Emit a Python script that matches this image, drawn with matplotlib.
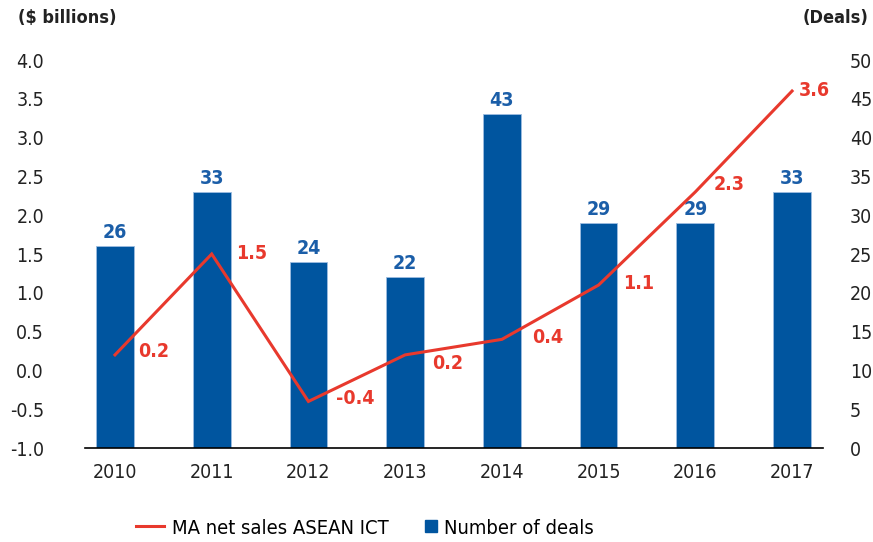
import matplotlib
matplotlib.use("Agg")
import matplotlib.pyplot as plt
from matplotlib.lines import Line2D
import numpy as np

plt.rcParams['font.family'] = ['DejaVu Sans']
plt.rcParams['font.stretch'] = 'condensed'

years = ['2010', '2011', '2012', '2013', '2014', '2015', '2016', '2017']
net_sales = [0.2, 1.5, -0.4, 0.2, 0.4, 1.1, 2.3, 3.6]   # $ billions
deals = [26, 33, 24, 22, 43, 29, 29, 33]

BLUE = '#00559f'
BLUE_TXT = '#1b5ea8'
RED = '#e8392d'
INK = '#222222'

# where each red value label sits relative to its point (pixels)
label_shift = [(23, 3), (24, 1), (28, 3), (27, -9), (30, 2), (24, 2), (18, 7), (7, 1)]

fig = plt.figure(figsize=(8.73, 5.42), dpi=100)
ax = fig.add_axes([85 / 873, 1 - 448 / 542, 738 / 873, 388 / 542])
ax2 = ax.twinx()

x = np.arange(len(years))

# deals as bars on the right axis
ax2.bar(x, deals, width=0.39, color=BLUE, edgecolor='#9dbde0', linewidth=0.6, zorder=1)
for xi, d in zip(x, deals):
    ax2.annotate(str(d), (xi, d), xytext=(0, 3), textcoords='offset points',
                 ha='center', va='bottom', color=BLUE_TXT, fontsize=14, fontweight='bold')
ax2.set_ylim(0, 50)
ax2.set_yticks(range(0, 51, 5))

# net sales line on the left axis, drawn above the bars
ax.set_zorder(ax2.get_zorder() + 1)
ax.patch.set_visible(False)
ax.plot(x, net_sales, color=RED, lw=2.2, solid_joinstyle='miter')
for xi, v, (dx, dy) in zip(x, net_sales, label_shift):
    ax.annotate(f'{v:.1f}', (xi, v), xytext=(dx * 0.72, dy * 0.72), textcoords='offset points',
                ha='left', va='center', color=RED, fontsize=14, fontweight='bold')
ax.set_ylim(-1, 4)
ax.set_yticks(np.arange(-1, 4.01, 0.5))
ax.set_yticklabels([f'{t:.1f}' for t in np.arange(-1, 4.01, 0.5)])

ax.set_xlim(-0.31, 7.32)
ax.set_xticks(x)
ax.set_xticklabels(years)

for a in (ax, ax2):
    for s in ('top', 'left', 'right'):
        a.spines[s].set_visible(False)
    a.spines['bottom'].set_visible(a is ax)
    a.tick_params(length=0, labelsize=14, colors=INK)
ax.spines['bottom'].set_linewidth(1.2)
ax.tick_params(axis='y', pad=29.5)
ax.tick_params(axis='x', pad=11)
ax2.tick_params(axis='y', pad=19.5)

fig.text(18 / 873, 1 - 18 / 542, '($ billions)', fontsize=13, fontweight='bold',
         ha='left', va='center', color=INK)
fig.text(868 / 873, 1 - 18 / 542, '(Deals)', fontsize=13, fontweight='bold',
         ha='right', va='center', color=INK)

# two legend entries placed separately along the bottom
leg_y = 1 - 528 / 542
line_leg = fig.legend([Line2D([], [], color=RED, lw=2.2)], ['MA net sales ASEAN ICT'],
                      loc='center left', bbox_to_anchor=(136 / 873, leg_y),
                      frameon=False, fontsize=14.5, handlelength=1.4, handletextpad=0.4,
                      borderpad=0, borderaxespad=0)
bar_leg = fig.legend([Line2D([], [], color=BLUE, marker='s', ls='none', markersize=8)],
                     ['Number of deals'],
                     loc='center left', bbox_to_anchor=(425 / 873, leg_y),
                     frameon=False, fontsize=14.5, handlelength=0.55, handletextpad=0.4,
                     borderpad=0, borderaxespad=0)

fig.savefig('out.png', dpi=100)
